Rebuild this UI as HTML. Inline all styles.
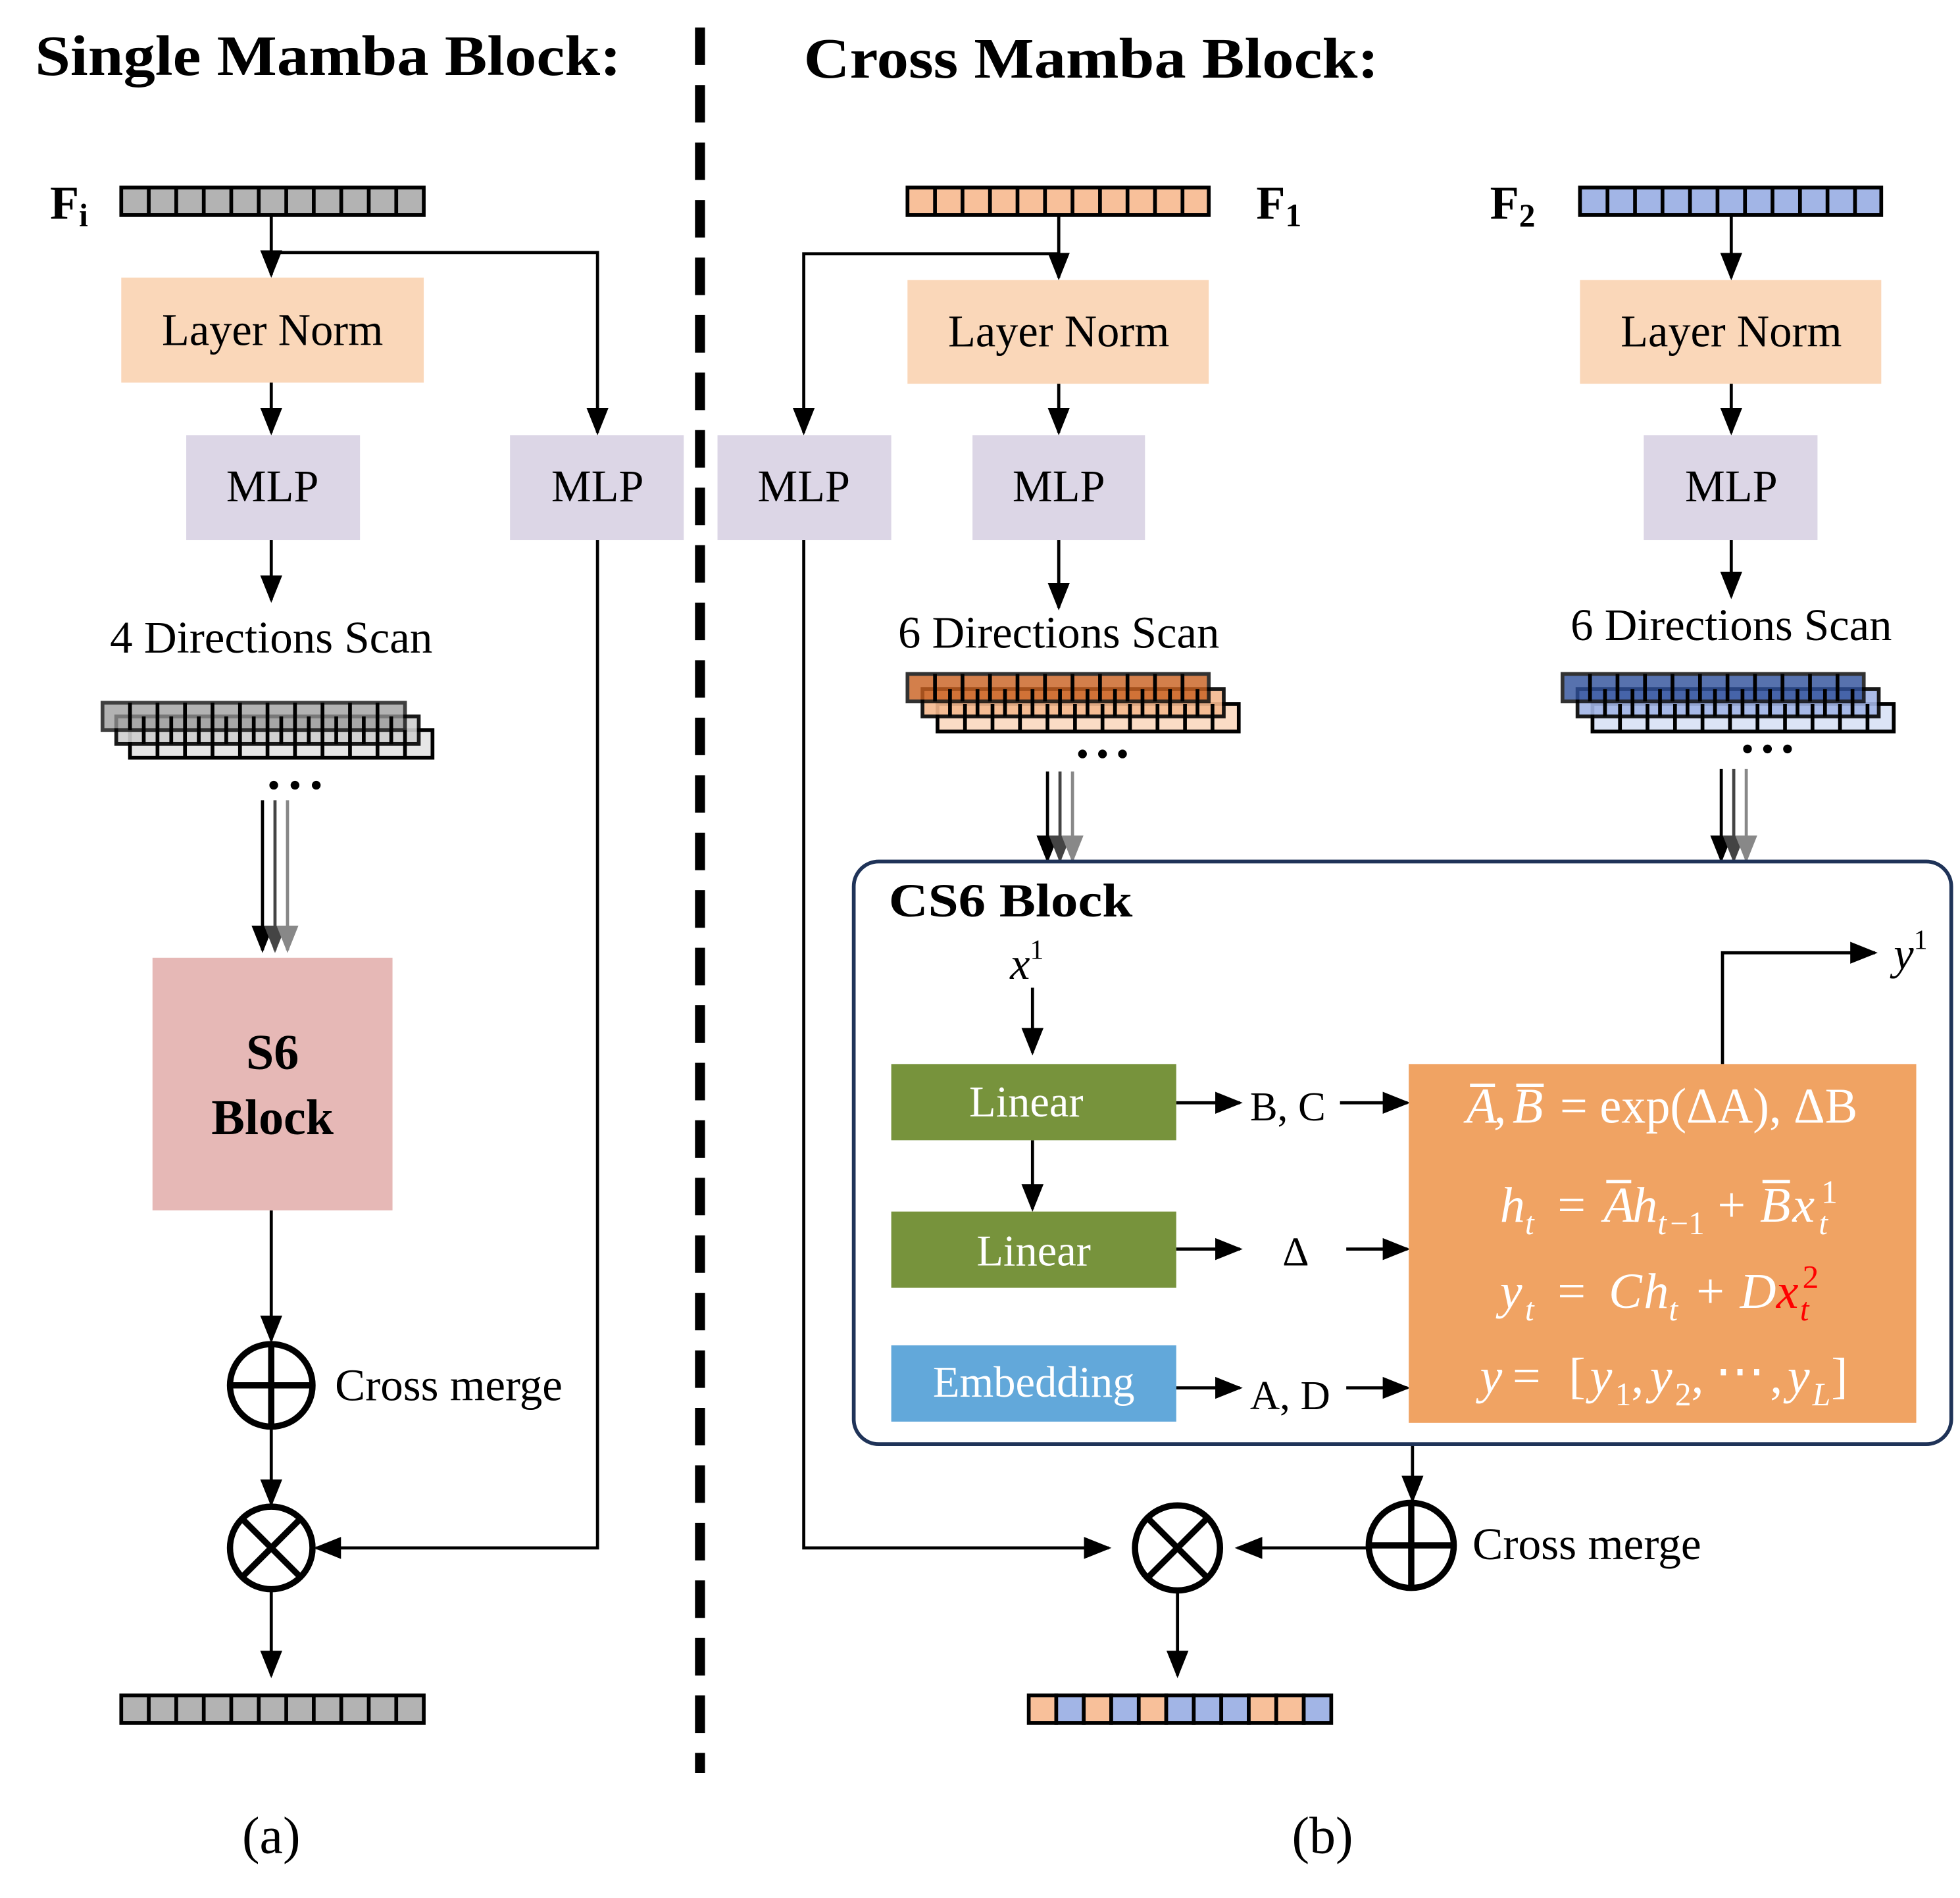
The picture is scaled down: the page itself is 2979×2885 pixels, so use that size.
<!DOCTYPE html>
<html><head><meta charset="utf-8"><style>html,body{margin:0;padding:0;background:#fff}svg{display:block}</style></head><body>
<svg width="2979" height="2885" viewBox="0 0 1568 1518" preserveAspectRatio="none" xmlns="http://www.w3.org/2000/svg" font-family="'Liberation Serif', serif">
<defs>
<marker id="a" viewBox="0 0 10 10" refX="9" refY="5" markerWidth="22" markerHeight="22" markerUnits="userSpaceOnUse" orient="auto"><path d="M0,1 L10,5 L0,9 Z" fill="#000"/></marker>
<marker id="a2" viewBox="0 0 10 10" refX="9" refY="5" markerWidth="22" markerHeight="22" markerUnits="userSpaceOnUse" orient="auto"><path d="M0,1 L10,5 L0,9 Z" fill="#444"/></marker>
<marker id="a3" viewBox="0 0 10 10" refX="9" refY="5" markerWidth="22" markerHeight="22" markerUnits="userSpaceOnUse" orient="auto"><path d="M0,1 L10,5 L0,9 Z" fill="#888"/></marker>
</defs>
<rect width="1568" height="1518" fill="#fff"/>
<text x="28" y="60" font-size="46" font-weight="bold" textLength="469" lengthAdjust="spacingAndGlyphs">Single Mamba Block:</text>
<text x="643" y="62" font-size="46" font-weight="bold" textLength="460" lengthAdjust="spacingAndGlyphs">Cross Mamba Block:</text>
<line x1="560" y1="22" x2="560" y2="1418" stroke="#000" stroke-width="8" stroke-dasharray="30,16"/>

<g stroke="#000" stroke-width="2.5" fill="none">
<line x1="217" y1="172" x2="217" y2="220" marker-end="url(#a)"/>
<polyline points="217,202 478,202 478,346" marker-end="url(#a)"/>
<line x1="217" y1="306" x2="217" y2="346" marker-end="url(#a)"/>
<line x1="217" y1="432" x2="217" y2="480" marker-end="url(#a)"/>
<line x1="210" y1="640" x2="210" y2="760" marker-end="url(#a)"/>
<line x1="220" y1="640" x2="220" y2="760" stroke="#444" marker-end="url(#a2)"/>
<line x1="230" y1="640" x2="230" y2="760" stroke="#888" marker-end="url(#a3)"/>
<line x1="217" y1="968" x2="217" y2="1072" marker-end="url(#a)"/>
<line x1="217" y1="1142" x2="217" y2="1203" marker-end="url(#a)"/>
<polyline points="478,432 478,1238 253,1238" marker-end="url(#a)"/>
<line x1="217" y1="1272" x2="217" y2="1340" marker-end="url(#a)"/>
<line x1="847" y1="172" x2="847" y2="222" marker-end="url(#a)"/>
<polyline points="847,203 643,203 643,346" marker-end="url(#a)"/>
<line x1="847" y1="307" x2="847" y2="346" marker-end="url(#a)"/>
<line x1="847" y1="432" x2="847" y2="486" marker-end="url(#a)"/>
<line x1="838" y1="617" x2="838" y2="688" marker-end="url(#a)"/>
<line x1="848" y1="617" x2="848" y2="688" stroke="#444" marker-end="url(#a2)"/>
<line x1="858" y1="617" x2="858" y2="688" stroke="#888" marker-end="url(#a3)"/>
<line x1="1385" y1="172" x2="1385" y2="222" marker-end="url(#a)"/>
<line x1="1385" y1="307" x2="1385" y2="346" marker-end="url(#a)"/>
<line x1="1385" y1="432" x2="1385" y2="477" marker-end="url(#a)"/>
<line x1="1377" y1="615" x2="1377" y2="688" marker-end="url(#a)"/>
<line x1="1387" y1="615" x2="1387" y2="688" stroke="#444" marker-end="url(#a2)"/>
<line x1="1397" y1="615" x2="1397" y2="688" stroke="#888" marker-end="url(#a3)"/>
<line x1="826" y1="790" x2="826" y2="842" marker-end="url(#a)"/>
<line x1="826" y1="912" x2="826" y2="967" marker-end="url(#a)"/>
<line x1="941" y1="882" x2="992" y2="882" marker-end="url(#a)"/>
<line x1="1072" y1="882" x2="1126" y2="882" marker-end="url(#a)"/>
<line x1="941" y1="999" x2="992" y2="999" marker-end="url(#a)"/>
<line x1="1077" y1="999" x2="1126" y2="999" marker-end="url(#a)"/>
<line x1="941" y1="1110" x2="992" y2="1110" marker-end="url(#a)"/>
<line x1="1077" y1="1110" x2="1126" y2="1110" marker-end="url(#a)"/>
<polyline points="1378,851 1378,762 1500,762" marker-end="url(#a)"/>
<line x1="1130" y1="1155" x2="1130" y2="1200" marker-end="url(#a)"/>
<line x1="1094" y1="1238" x2="990" y2="1238" marker-end="url(#a)"/>
<polyline points="643,432 643,1238 887,1238" marker-end="url(#a)"/>
<line x1="942" y1="1272" x2="942" y2="1340" marker-end="url(#a)"/>
</g>

<g stroke="#000" stroke-width="3">
<rect x="97" y="150" width="242" height="22" fill="#b3b3b3"/>
<rect x="97" y="1356" width="242" height="22" fill="#b3b3b3"/>
<rect x="726" y="150" width="241" height="22" fill="#f8c09a"/>
<rect x="1264" y="150" width="241" height="22" fill="#a2b5e6"/>
<rect x="104" y="584" width="242" height="22" fill="#e6e6e6"/>
<rect x="93" y="573" width="242" height="22" fill="#cfcfcf" opacity="0.9"/>
<rect x="82" y="562" width="242" height="22" fill="#999" opacity="0.75"/>
<rect x="750" y="563" width="241" height="22" fill="#fbdcc5"/>
<rect x="738" y="551" width="241" height="22" fill="#f5b98e" opacity="0.9"/>
<rect x="726" y="539" width="241" height="22" fill="#c9601f" opacity="0.8"/>
<rect x="1274" y="563" width="241" height="22" fill="#dce4f6"/>
<rect x="1262" y="551" width="241" height="22" fill="#a2b5e6" opacity="0.9"/>
<rect x="1250" y="539" width="241" height="22" fill="#2e4f9a" opacity="0.8"/>
</g>
<g stroke="#000" stroke-width="3">
<path d="M119,150v22M141,150v22M163,150v22M185,150v22M207,150v22M229,150v22M251,150v22M273,150v22M295,150v22M317,150v22"/>
<path d="M119,1356v22M141,1356v22M163,1356v22M185,1356v22M207,1356v22M229,1356v22M251,1356v22M273,1356v22M295,1356v22M317,1356v22"/>
<path d="M748,150v22M770,150v22M792,150v22M814,150v22M836,150v22M858,150v22M880,150v22M902,150v22M924,150v22M946,150v22"/>
<path d="M1286,150v22M1308,150v22M1330,150v22M1352,150v22M1374,150v22M1396,150v22M1418,150v22M1440,150v22M1462,150v22M1484,150v22"/>
<path d="M126,584v22M148,584v22M170,584v22M192,584v22M214,584v22M236,584v22M258,584v22M280,584v22M302,584v22M324,584v22M115,573v22M137,573v22M159,573v22M181,573v22M203,573v22M225,573v22M247,573v22M269,573v22M291,573v22M313,573v22M104,562v22M126,562v22M148,562v22M170,562v22M192,562v22M214,562v22M236,562v22M258,562v22M280,562v22M302,562v22"/>
<path d="M772,563v22M794,563v22M816,563v22M838,563v22M860,563v22M882,563v22M904,563v22M926,563v22M948,563v22M970,563v22M760,551v22M782,551v22M804,551v22M826,551v22M848,551v22M870,551v22M892,551v22M914,551v22M936,551v22M958,551v22M748,539v22M770,539v22M792,539v22M814,539v22M836,539v22M858,539v22M880,539v22M902,539v22M924,539v22M946,539v22"/>
<path d="M1296,563v22M1318,563v22M1340,563v22M1362,563v22M1384,563v22M1406,563v22M1428,563v22M1450,563v22M1472,563v22M1494,563v22M1284,551v22M1306,551v22M1328,551v22M1350,551v22M1372,551v22M1394,551v22M1416,551v22M1438,551v22M1460,551v22M1482,551v22M1272,539v22M1294,539v22M1316,539v22M1338,539v22M1360,539v22M1382,539v22M1404,539v22M1426,539v22M1448,539v22M1470,539v22"/>
</g>
<g stroke="#000" stroke-width="3">
<rect x="823" y="1356" width="22" height="22" fill="#f8c09a"/><rect x="845" y="1356" width="22" height="22" fill="#a2b5e6"/>
<rect x="867" y="1356" width="22" height="22" fill="#f8c09a"/><rect x="889" y="1356" width="22" height="22" fill="#a2b5e6"/>
<rect x="911" y="1356" width="22" height="22" fill="#f8c09a"/><rect x="933" y="1356" width="22" height="22" fill="#a2b5e6"/>
<rect x="955" y="1356" width="22" height="22" fill="#a2b5e6"/><rect x="977" y="1356" width="22" height="22" fill="#a2b5e6"/>
<rect x="999" y="1356" width="22" height="22" fill="#f8c09a"/><rect x="1021" y="1356" width="22" height="22" fill="#f8c09a"/>
<rect x="1043" y="1356" width="22" height="22" fill="#a2b5e6"/>
</g>
<g fill="#000"><circle cx="219" cy="628" r="3.5"/><circle cx="236" cy="628" r="3.5"/><circle cx="253" cy="628" r="3.5"/>
<circle cx="866" cy="603" r="3.5"/><circle cx="882" cy="603" r="3.5"/><circle cx="898" cy="603" r="3.5"/>
<circle cx="1398" cy="599" r="3.5"/><circle cx="1414" cy="599" r="3.5"/><circle cx="1430" cy="599" r="3.5"/></g>

<text x="40" y="175" font-size="38" font-weight="bold">F<tspan font-size="26" dy="6">i</tspan></text>
<text x="1005" y="175" font-size="38" font-weight="bold">F<tspan font-size="26" dy="6">1</tspan></text>
<text x="1192" y="175" font-size="38" font-weight="bold">F<tspan font-size="26" dy="6">2</tspan></text>

<rect x="97" y="222" width="242" height="84" fill="#fad7b9"/>
<rect x="726" y="224" width="241" height="83" fill="#fad7b9"/>
<rect x="1264" y="224" width="241" height="83" fill="#fad7b9"/>
<g fill="#dcd6e6"><rect x="149" y="348" width="139" height="84"/><rect x="408" y="348" width="139" height="84"/><rect x="574" y="348" width="139" height="84"/><rect x="778" y="348" width="138" height="84"/><rect x="1315" y="348" width="139" height="84"/></g>
<rect x="122" y="766" width="192" height="202" fill="#e6b8b6"/>
<g font-size="36" text-anchor="middle">
<text x="218" y="276" textLength="177" lengthAdjust="spacingAndGlyphs">Layer Norm</text><text x="847" y="277" textLength="177" lengthAdjust="spacingAndGlyphs">Layer Norm</text><text x="1385" y="277" textLength="177" lengthAdjust="spacingAndGlyphs">Layer Norm</text>
<text x="218" y="401">MLP</text><text x="478" y="401">MLP</text><text x="643" y="401">MLP</text><text x="847" y="401">MLP</text><text x="1385" y="401">MLP</text>
<text x="217" y="522" textLength="258" lengthAdjust="spacingAndGlyphs">4 Directions Scan</text>
<text x="847" y="518" textLength="257" lengthAdjust="spacingAndGlyphs">6 Directions Scan</text>
<text x="1385" y="512" textLength="257" lengthAdjust="spacingAndGlyphs">6 Directions Scan</text>
<text x="218" y="855" font-size="40" font-weight="bold">S6</text>
<text x="218" y="907" font-size="40" font-weight="bold">Block</text>
<text x="217" y="1482" font-size="42">(a)</text>
<text x="1058" y="1482" font-size="42">(b)</text>
</g>

<g stroke="#000" stroke-width="5" fill="none">
<circle cx="217" cy="1108" r="33"/><path d="M184,1108h66M217,1075v66"/>
<circle cx="217" cy="1238" r="33"/><path d="M194,1215l46,46M240,1215l-46,46"/>
<circle cx="1129" cy="1236" r="34"/><path d="M1095,1236h68M1129,1202v68"/>
<circle cx="942" cy="1238" r="34"/><path d="M918,1214l48,48M966,1214l-48,48"/>
</g>
<text x="268" y="1120" font-size="36" textLength="182" lengthAdjust="spacingAndGlyphs">Cross merge</text>
<text x="1178" y="1247" font-size="36" textLength="183" lengthAdjust="spacingAndGlyphs">Cross merge</text>

<rect x="683" y="689" width="878" height="466" rx="20" fill="none" stroke="#1f3358" stroke-width="3"/>
<text x="711" y="733" font-size="38" font-weight="bold" textLength="195" lengthAdjust="spacingAndGlyphs">CS6 Block</text>
<text x="808" y="783" font-size="36" font-style="italic">x<tspan font-size="22" dy="-16" font-style="normal">1</tspan></text>
<text x="1515" y="775" font-size="36" font-style="italic">y<tspan font-size="22" dy="-16" font-style="normal">1</tspan></text>
<rect x="713" y="851" width="228" height="61" fill="#77933c"/>
<rect x="713" y="969" width="228" height="61" fill="#77933c"/>
<rect x="713" y="1076" width="228" height="61" fill="#62a8da"/>
<g font-size="35" fill="#fff" text-anchor="middle">
<text x="821" y="893">Linear</text><text x="827" y="1012">Linear</text><text x="827" y="1117">Embedding</text></g>
<g font-size="33"><text x="1000" y="896">B, C</text><text x="1026" y="1012">Δ</text><text x="1000" y="1127">A, D</text></g>
<rect x="1127" y="851" width="406" height="287" fill="#f0a363"/>
<g fill="#fff" font-size="40" font-style="italic">
<!-- line 1 -->
<text x="1173" y="898">A</text><text x="1195" y="898">,</text><text x="1210" y="898">B</text>
<text x="1248" y="898" font-style="normal" textLength="238" lengthAdjust="spacingAndGlyphs">= exp(ΔA), ΔB</text>
<!-- line 2 -->
<text x="1200" y="977">h</text><text x="1220" y="987" font-size="26">t</text>
<text x="1246" y="977" font-style="normal">=</text>
<text x="1283" y="977">A</text><text x="1306" y="977">h</text><text x="1326" y="987" font-size="26">t</text><text x="1336" y="987" font-size="26" font-style="normal">−1</text>
<text x="1374" y="977" font-style="normal">+</text>
<text x="1408" y="977">B</text><text x="1434" y="977">x</text><text x="1455" y="987" font-size="26">t</text><text x="1457" y="962" font-size="26" font-style="normal">1</text>
<!-- line 3 -->
<text x="1200" y="1046">y</text><text x="1220" y="1056" font-size="26">t</text>
<text x="1246" y="1046" font-style="normal">=</text>
<text x="1287" y="1046">C</text><text x="1315" y="1046">h</text><text x="1335" y="1056" font-size="26">t</text>
<text x="1357" y="1046" font-style="normal">+</text>
<text x="1392" y="1046">D</text><text x="1421" y="1046" fill="#ff0000">x</text><text x="1440" y="1056" font-size="26" fill="#ff0000">t</text><text x="1442" y="1030" font-size="26" fill="#ff0000" font-style="normal">2</text>
<!-- line 4 -->
<text x="1184" y="1114">y</text>
<text x="1210" y="1114" font-style="normal">=</text>
<text x="1255" y="1114" font-style="normal">[</text>
<text x="1272" y="1114">y</text><text x="1292" y="1124" font-size="26" font-style="normal">1</text><text x="1305" y="1114" font-style="normal">,</text>
<text x="1320" y="1114">y</text><text x="1340" y="1124" font-size="26" font-style="normal">2</text><text x="1353" y="1114" font-style="normal">,</text>
<text x="1372" y="1110" font-style="normal">⋯</text><text x="1416" y="1114" font-style="normal">,</text>
<text x="1430" y="1114">y</text><text x="1450" y="1124" font-size="26">L</text>
<text x="1465" y="1114" font-style="normal">]</text>
</g>
<g stroke="#fff" stroke-width="2.5"><path d="M1176,868h20M1213,868h22M1285,945h20M1410,945h22"/></g>
</svg>
</body></html>
